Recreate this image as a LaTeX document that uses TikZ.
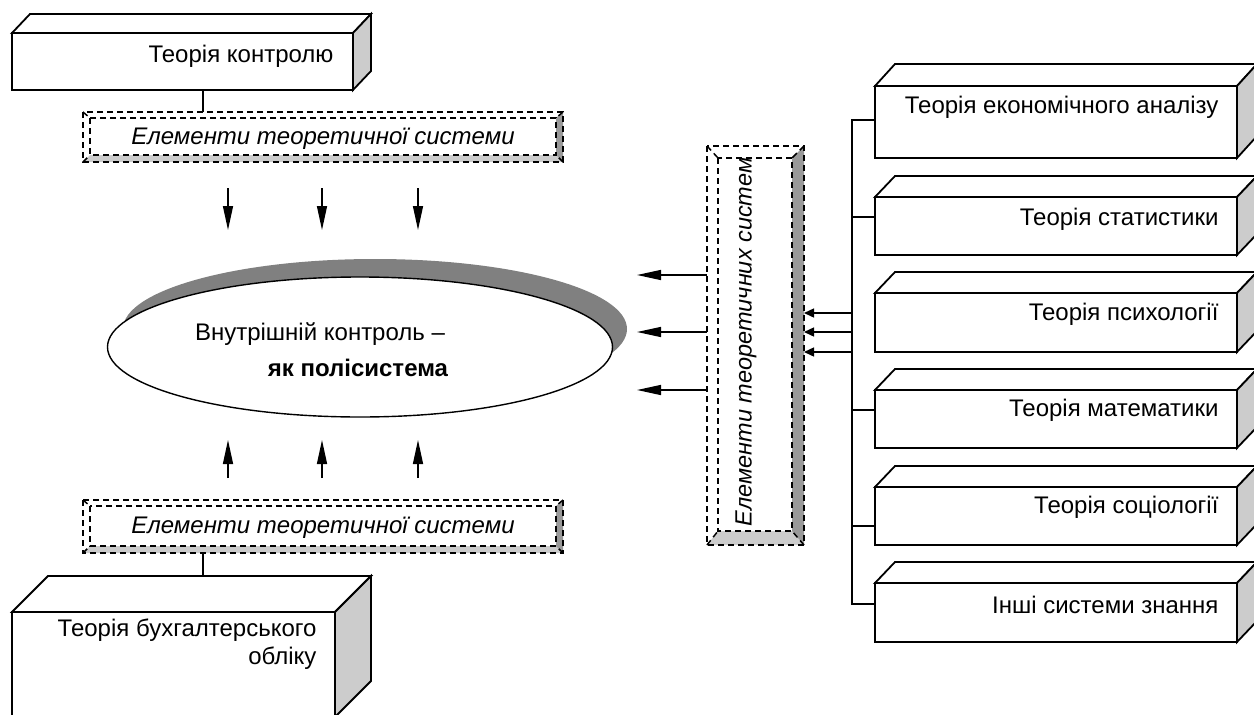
\documentclass[tikz,border=0pt]{standalone}
\usepackage{fontspec}
\setmainfont{Liberation Sans}
\usetikzlibrary{arrows.meta,shapes.geometric}
\definecolor{sidegray}{HTML}{CCCCCC}
\definecolor{banddark}{HTML}{999999}
\definecolor{bandlight}{HTML}{CCCCCC}
\definecolor{shadowgray}{HTML}{808080}
\newcommand\tdfaces[3]{%
  \draw[facestyle,fill=white] (#1.north west) -- ([shift={(#2,-#3)}]#1.north west) -- ([shift={(#2,-#3)}]#1.north east) -- (#1.north east) -- cycle;
  \draw[facestyle,fill=sidegray] (#1.north east) -- ([shift={(#2,-#3)}]#1.north east) -- ([shift={(#2,-#3)}]#1.south east) -- (#1.south east) -- cycle;}
\newcommand\bevelframe[5]{%
  \fill[bandlight] (#1.south west) -- (#1.south east) -- ([shift={(-#4,-#5)}]#1.south east) -- ([shift={(#2,-#5)}]#1.south west) -- cycle;
  \fill[banddark] (#1.north east) -- (#1.south east) -- ([shift={(-#4,-#5)}]#1.south east) -- ([shift={(-#4,#3)}]#1.north east) -- cycle;
  \draw[dashline] (#1.north west) rectangle (#1.south east);
  \draw[dashline] ([shift={(#2,#3)}]#1.north west) rectangle ([shift={(-#4,-#5)}]#1.south east);
  \draw[dashline] (#1.north west) -- ([shift={(#2,#3)}]#1.north west);
  \draw[dashline] (#1.north east) -- ([shift={(-#4,#3)}]#1.north east);
  \draw[dashline] (#1.south west) -- ([shift={(#2,-#5)}]#1.south west);
  \draw[dashline] (#1.south east) -- ([shift={(-#4,-#5)}]#1.south east);}
\begin{document}
\begin{tikzpicture}[x=1pt,y=-1pt,
  facestyle/.style={draw=black,line width=1.8pt,line join=miter},
  front/.style={draw=black,line width=1.8pt,fill=white,rectangle,inner sep=0pt,outer sep=0pt,anchor=north west},
  dashline/.style={draw=black,line width=1.5pt,dash pattern=on 6pt off 4pt},
  frame/.style={rectangle,inner sep=0pt,outer sep=0pt},
  txt/.style={font=\fontsize{24}{28}\selectfont},
  ittxt/.style={font=\fontsize{24}{28}\selectfont\itshape},
  conn/.style={draw=black,line width=1.8pt},
  bigarrow/.style={draw=black,line width=1.4pt,-{Triangle[length=24pt,width=10pt]}},
  smallarrow/.style={draw=black,line width=1.4pt,-{Triangle[length=10pt,width=9pt]}}]
\useasboundingbox (0,0) rectangle (1254,715);
\clip (0,0) rectangle (1254,715);

% ---- top-left box
\node[front,minimum width=341pt,minimum height=57pt] (tk) at (12,33) {};
\tdfaces{tk}{18}{19}
\node[txt,anchor=east] (tkt) at (337,56) {Теорія контролю};

% ---- top dashed frame
\node[frame,minimum width=480pt,minimum height=50pt] (eb1) at (323,137) {};
\bevelframe{eb1}{7}{6}{7}{7}
\node[ittxt] (eb1t) at (323,139) {Елементи теоретичної системи};
\coordinate (cx) at (203,0);
\draw[conn] (tk.south -| cx) -- (eb1.north -| cx);

% ---- bottom dashed frame
\node[frame,minimum width=480pt,minimum height=53pt] (eb2) at (323,526.5) {};
\bevelframe{eb2}{7}{6}{7}{7}
\node[ittxt] (eb2t) at (323,528) {Елементи теоретичної системи};

% ---- bottom-left box
\node[front,minimum width=323pt,minimum height=105pt] (bk) at (12,612) {};
\tdfaces{bk}{36}{36}
\node[txt,anchor=north east,align=right] (bkt) at (320,615) {Теорія бухгалтерського\\обліку};
\coordinate (bktop) at (203,576);
\draw[conn] (eb2.south -| cx) -- (bktop);

% ---- ellipse
\fill[shadowgray] (375,329) ellipse [x radius=252, y radius=70];
\node[ellipse,draw=black,line width=1.4pt,fill=white,minimum width=505pt,minimum height=140pt,inner sep=0pt] (el) at (360,347) {};
\node[txt] (el1) at (320,334) {Внутрішній контроль –};
\node[txt,font=\fontsize{24}{28}\selectfont\bfseries] (el2) at (358,368) {як полісистема};

% ---- down / up arrows
\foreach \i/\xx in {1/228,2/322,3/418}{
  \coordinate (ds\i) at (\xx,188);
  \coordinate (de\i) at (\xx,230);
  \coordinate (us\i) at (\xx,478);
  \coordinate (ue\i) at (\xx,440);
  \draw[bigarrow] (ds\i) -- (de\i);
  \draw[bigarrow] (us\i) -- (ue\i);
}

% ---- vertical dashed frame
\node[frame,minimum width=97pt,minimum height=399pt] (vb) at (755.5,345.5) {};
\bevelframe{vb}{11}{12}{12}{14}
\node[rotate=90,font=\fontsize{23.5}{28}\selectfont\itshape] (vbt) at (746,342) {Елементи теоретичних систем};

% left arrows to ellipse
\foreach \i/\yy in {1/275,2/332,3/390}{
  \coordinate (la\i) at (637,\yy);
  \draw[bigarrow] (vb.west |- la\i) -- (la\i);
}

% ---- right boxes
\node[front,minimum width=362pt,minimum height=72pt] (eco) at (875,86) {};
\tdfaces{eco}{20}{22}
\node[txt,anchor=east] at (1222,107) {Теорія економічного аналізу};

\node[front,minimum width=362pt,minimum height=58pt] (sta) at (875,197) {};
\tdfaces{sta}{20}{21}
\node[txt,anchor=east] at (1222,219) {Теорія статистики};

\node[front,minimum width=362pt,minimum height=59pt] (psy) at (875,293) {};
\tdfaces{psy}{20}{21}
\node[txt,anchor=east] at (1222,314) {Теорія психології};

\node[front,minimum width=362pt,minimum height=58pt] (mat) at (875,390) {};
\tdfaces{mat}{20}{21}
\node[txt,anchor=east] at (1222,410) {Теорія математики};

\node[front,minimum width=362pt,minimum height=58pt] (soc) at (875,487) {};
\tdfaces{soc}{20}{21}
\node[txt,anchor=east] at (1222,507) {Теорія соціології};

\node[front,minimum width=362pt,minimum height=59pt] (oth) at (875,583) {};
\tdfaces{oth}{20}{21}
\node[txt,anchor=east] at (1222,605) {Інші системи знання};

% ---- bus
\coordinate (b1) at (852,120);
\coordinate (b2) at (852,217);
\coordinate (b4) at (852,410);
\coordinate (b5) at (852,526);
\coordinate (b6) at (852,604);
\draw[conn,line width=1.6pt] (eco.west |- b1) -- (b1) -- (b6) -- (oth.west |- b6);
\draw[conn,line width=1.6pt] (b2) -- (sta.west |- b2);
\draw[conn,line width=1.6pt] (b4) -- (mat.west |- b4);
\draw[conn,line width=1.6pt] (b5) -- (soc.west |- b5);

% right arrows into vertical frame
\foreach \i/\yy in {1/313,2/332,3/352}{
  \coordinate (ra\i) at (852,\yy);
  \draw[smallarrow] (ra\i) -- (vb.east |- ra\i);
}
\end{tikzpicture}
\end{document}
